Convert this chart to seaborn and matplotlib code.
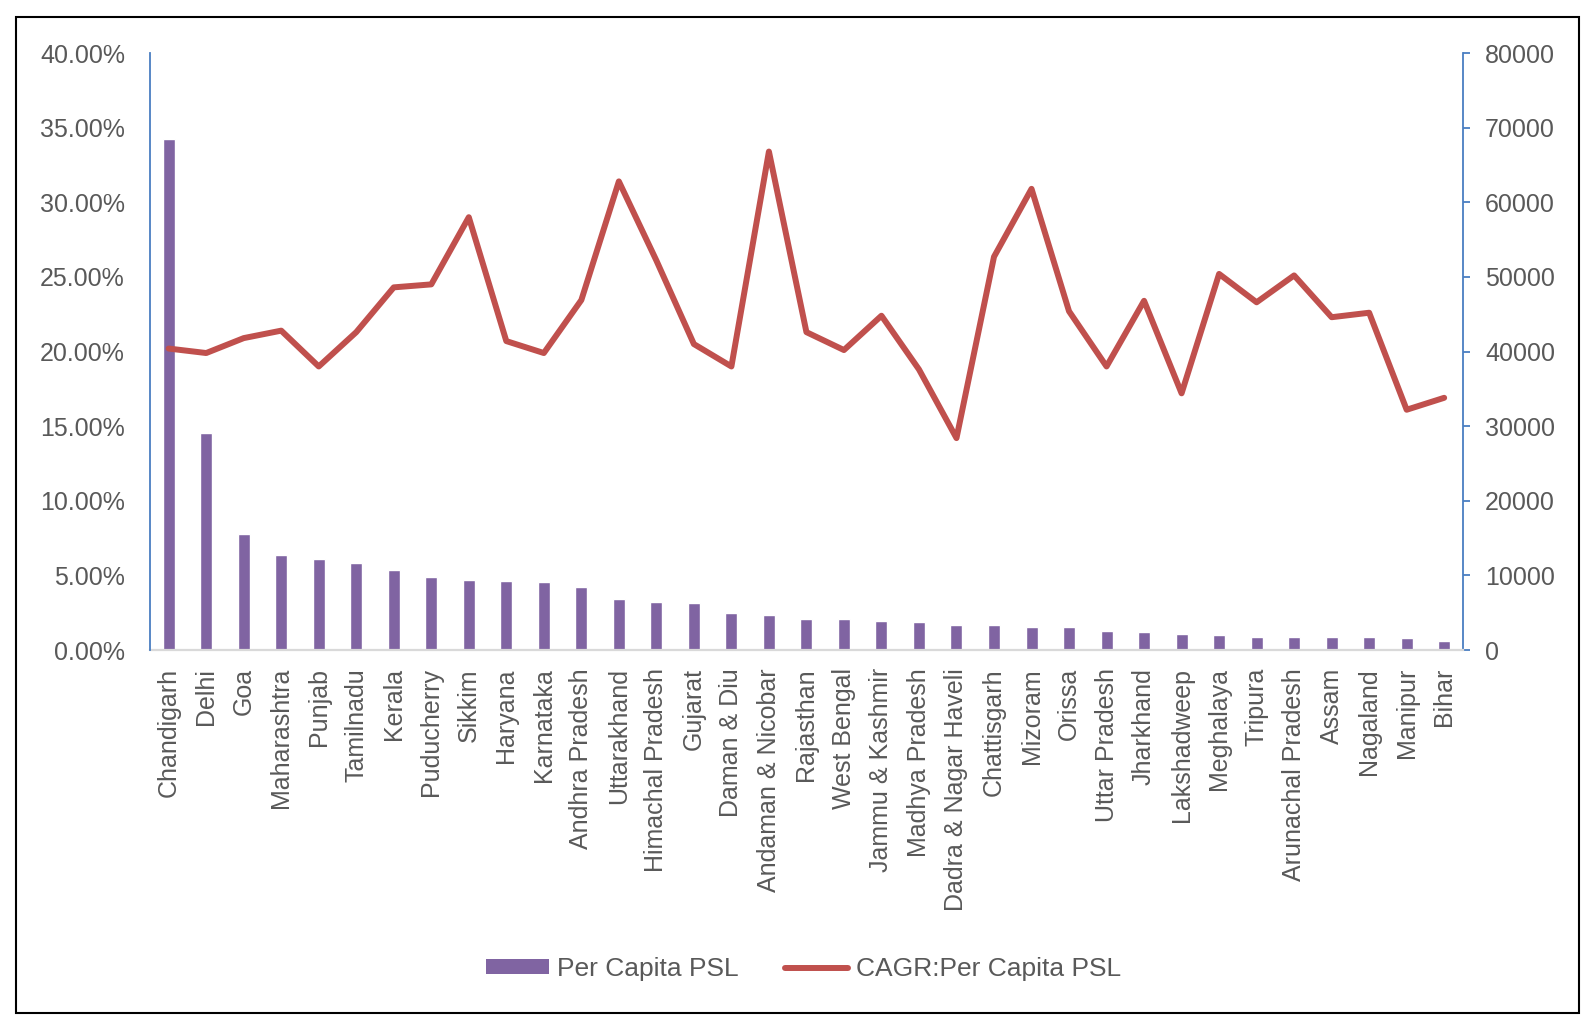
import numpy as np
import pandas as pd
import matplotlib
matplotlib.use("Agg")
import matplotlib.pyplot as plt
from matplotlib.patches import Rectangle, Patch
from matplotlib.lines import Line2D
from matplotlib.ticker import PercentFormatter, FixedLocator
import seaborn as sns

# ---------------- data ----------------
states = ['Chandigarh', 'Delhi', 'Goa', 'Maharashtra', 'Punjab', 'Tamilnadu', 'Kerala',
          'Puducherry', 'Sikkim', 'Haryana', 'Karnataka', 'Andhra Pradesh', 'Uttarakhand',
          'Himachal Pradesh', 'Gujarat', 'Daman & Diu', 'Andaman & Nicobar', 'Rajasthan',
          'West Bengal', 'Jammu & Kashmir', 'Madhya Pradesh', 'Dadra & Nagar Haveli',
          'Chattisgarh', 'Mizoram', 'Orissa', 'Uttar Pradesh', 'Jharkhand', 'Lakshadweep',
          'Meghalaya', 'Tripura', 'Arunachal Pradesh', 'Assam', 'Nagaland', 'Manipur', 'Bihar']
per_capita_psl = [68500, 29100, 15500, 12700, 12200, 11650, 10700, 9800, 9400, 9250,
                  9100, 8450, 6900, 6500, 6350, 5000, 4750, 4200, 4100, 3950, 3800, 3300,
                  3300, 3150, 3150, 2600, 2350, 2200, 1950, 1800, 1700, 1700, 1700, 1550, 1150]
cagr_pct = [20.2, 19.9, 20.9, 21.4, 19.0, 21.3, 24.3, 24.5, 29.0, 20.7, 19.9, 23.45, 31.4,
            26.1, 20.5, 19.0, 33.4, 21.3, 20.1, 22.4, 18.8, 14.2, 26.35, 30.9, 22.7, 19.0,
            23.4, 17.2, 25.2, 23.3, 25.1, 22.3, 22.6, 16.1, 16.9]
left_ticks = [0, 5, 10, 15, 20, 25, 30, 35, 40]
right_ticks = [0, 10000, 20000, 30000, 40000, 50000, 60000, 70000, 80000]
legend_labels = ['Per Capita PSL', 'CAGR:Per Capita PSL']

# ---------------- style ----------------
BAR_C = '#8064A2'
LINE_C = '#C0504D'
AXIS_BLUE = '#4A7EC1'
TXT = '#595959'

sns.set_theme(style='white')
plt.rcParams['font.family'] = ['Liberation Sans', 'DejaVu Sans']

df = pd.DataFrame({'state': states, 'psl': per_capita_psl, 'cagr': cagr_pct})

fig = plt.figure(figsize=(15.95, 10.30), dpi=100)
ax_bar = fig.add_axes([0.0940, 0.3689, 0.8232, 0.5796])

sns.barplot(data=df, x='state', y='psl', order=states, color=BAR_C, saturation=1,
            width=0.32, ax=ax_bar)

ax_line = ax_bar.twinx()
sns.lineplot(x=np.arange(len(states)), y=df['cagr'].to_numpy(), ax=ax_line,
             color=LINE_C, linewidth=4.3, solid_capstyle='round')

ax_bar.set_xlim(-0.5, len(states) - 0.5)
ax_bar.set_ylim(0, 80000)
ax_line.set_ylim(0, 40)

# right axis (bars)
ax_bar.yaxis.set_major_locator(FixedLocator(right_ticks))
ax_bar.tick_params(axis='y', left=False, labelleft=False, right=True, labelright=True,
                   length=5, width=1.3, color=AXIS_BLUE, direction='out', pad=11,
                   labelsize=18, labelcolor=TXT)
# left axis (line)
ax_line.yaxis.set_major_locator(FixedLocator(left_ticks))
ax_line.yaxis.set_major_formatter(PercentFormatter(xmax=100, decimals=2))
ax_line.tick_params(axis='y', left=True, labelleft=True, right=False, labelright=False,
                    length=0, pad=18, labelsize=18, labelcolor=TXT)

# x axis
ax_bar.tick_params(axis='x', bottom=False, length=0, pad=13, labelsize=18,
                   labelcolor=TXT, labelrotation=90)
ax_line.tick_params(axis='x', bottom=False, labelbottom=False)

for ax in (ax_bar, ax_line):
    ax.set_xlabel('')
    ax.set_ylabel('')
    ax.grid(False)

ax_bar.spines['top'].set_visible(False)
ax_bar.spines['left'].set_visible(False)
ax_bar.spines['right'].set_color(AXIS_BLUE)
ax_bar.spines['right'].set_linewidth(1.3)
ax_bar.spines['bottom'].set_color('#D9D9D9')
ax_bar.spines['bottom'].set_linewidth(1.6)

ax_line.spines['top'].set_visible(False)
ax_line.spines['right'].set_visible(False)
ax_line.spines['bottom'].set_visible(False)
ax_line.spines['left'].set_color(AXIS_BLUE)
ax_line.spines['left'].set_linewidth(1.3)

if ax_line.get_legend() is not None:
    ax_line.get_legend().remove()

handles = [Patch(facecolor=BAR_C, edgecolor='none'),
           Line2D([], [], color=LINE_C, linewidth=4.3, solid_capstyle='round')]
fig.legend(handles, legend_labels, loc='center', bbox_to_anchor=(0.5038, 0.0592),
           ncol=2, frameon=False, prop=dict(family=['Liberation Sans', 'DejaVu Sans'], size=19),
           labelcolor=TXT, handlelength=2.4, handleheight=0.5, handletextpad=0.3,
           columnspacing=1.75)

fig.add_artist(Rectangle((0.010, 0.0165), 0.980, 0.967, transform=fig.transFigure,
                         fill=False, edgecolor='black', linewidth=1.5))

fig.savefig('out.png', dpi=100)
